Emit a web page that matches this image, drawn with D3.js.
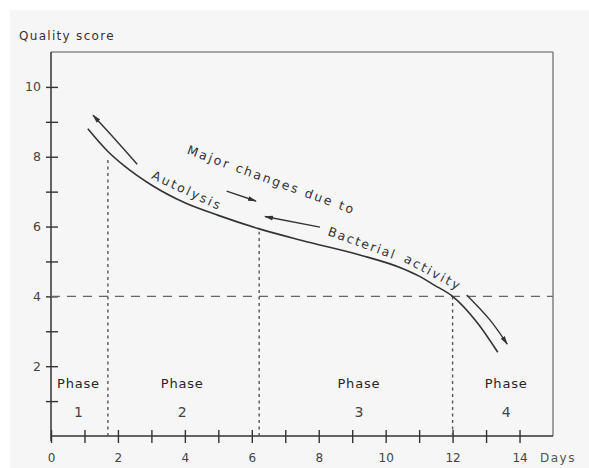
<!DOCTYPE html>
<html><head><meta charset="utf-8">
<script src="https://cdn.jsdelivr.net/npm/d3@7"></script>
<style>
html,body{margin:0;padding:0;background:#fff;}
svg{display:block;}
text{font-family:"DejaVu Sans", sans-serif;}
</style></head>
<body><svg id="chart" width="589" height="468"></svg>
<script>
// ---- data ----
const curveDays   = [1.1, 1.7, 2.2, 3.0, 4.0, 5.0, 6.2, 7.5, 9.25, 10.5, 11.0, 11.44, 12.0, 12.75, 13.35];
const curveScores = [8.8, 8.15, 7.73, 7.19, 6.68, 6.32, 5.94, 5.6, 5.18, 4.8, 4.58, 4.33, 4.0, 3.23, 2.4];

const yTickValues = [1,2,3,4,5,6,7,8,9,10];
const yTickLabels = ["","2","","4","","6","","8","","10"];
const xTickValues = [0,1,2,3,4,5,6,7,8,9,10,11,12,13,14];
const xTickLabels = ["0","","2","","4","","6","","8","","10","","12","","14"];

const thresholdScore = 4;
const phaseBoundaryDays = [1.7, 6.22, 12.0];
const phaseBoundaryTops = [8.0, 5.85, 4.0];
const phaseNames   = ["Phase","Phase","Phase","Phase"];
const phaseNumbers = ["1","2","3","4"];
const phaseLabelDays = [0.82, 3.92, 9.2, 13.6];

const annoTexts  = ["Major changes due to", "Autolysis", "Bacterial", "activity"];
const annoDays   = [4.04, 2.98, 8.25, 10.52];
const annoScores = [8.09, 7.38, 5.76, 5.0];
const annoAngles = [20, 25, 20, 28];
const annoLengths= [176, 74, 70, 61];

// arrows (data units: [day, score]); arrowhead at last point
const arrowUpLeft    = [[2.575,7.787],[1.886,8.53],[1.257,9.19]];
const arrowAutolysis = [[5.248,7.016],[6.124,6.73]];
const arrowBacterial = [[8.037,5.983],[6.394,6.287]];
const arrowDownRight = [[12.42,4.04],[13.12,3.32],[13.63,2.635]];

// ---- chart ----
const svg = d3.select("#chart");
svg.append("rect").attr("x",10).attr("y",10).attr("width",579).attr("height",458).attr("fill","#f6f6f6");

const x = d3.scaleLinear().domain([0,15]).range([51,553]);
const y = d3.scaleLinear().domain([0,11]).range([436,52]);
const ink = "#333";

svg.append("defs").append("marker")
  .attr("id","ah").attr("markerUnits","userSpaceOnUse")
  .attr("viewBox","0 -4 10 8").attr("refX",8).attr("refY",0)
  .attr("markerWidth",10).attr("markerHeight",8).attr("orient","auto")
  .append("path").attr("d","M0,-2.4L9,0L0,2.4Z").attr("fill",ink);

// frame (top, right)
svg.append("line").attr("x1",x(0)).attr("x2",x(15)).attr("y1",y(11)).attr("y2",y(11))
  .attr("stroke","#8a8a8a").attr("stroke-width",1.6);
svg.append("line").attr("x1",x(15)).attr("x2",x(15)).attr("y1",y(11)).attr("y2",y(0))
  .attr("stroke","#8a8a8a").attr("stroke-width",1.6);

// axes
const gy = svg.append("g").attr("transform",`translate(${x(0)},0)`)
  .call(d3.axisLeft(y).tickValues(yTickValues).tickFormat((d,i)=>yTickLabels[i]).tickSize(0).tickPadding(10));
gy.select(".domain").remove();
gy.selectAll(".tick line").attr("x1",-5).attr("x2",7).attr("stroke",ink).attr("stroke-width",1.4);
gy.selectAll(".tick text").attr("font-size",12.5).attr("fill","#444").attr("font-family","DejaVu Sans");

const gx = svg.append("g").attr("transform",`translate(0,${y(0)})`)
  .call(d3.axisBottom(x).tickValues(xTickValues).tickFormat((d,i)=>xTickLabels[i]).tickSize(0).tickPadding(17));
gx.select(".domain").remove();
gx.selectAll(".tick line").attr("y1",-6).attr("y2",7).attr("stroke",ink).attr("stroke-width",1.4);
gx.selectAll(".tick text").attr("font-size",12).attr("fill","#444").attr("font-family","DejaVu Sans");

svg.append("line").attr("x1",x(0)).attr("x2",x(0)).attr("y1",y(11)).attr("y2",y(0)+5)
  .attr("stroke",ink).attr("stroke-width",1.5);
svg.append("line").attr("x1",x(0)).attr("x2",x(15)).attr("y1",y(0)).attr("y2",y(0))
  .attr("stroke",ink).attr("stroke-width",1.5);

svg.append("text").attr("x",19).attr("y",40).attr("font-size",12).attr("letter-spacing",1.3)
  .attr("fill","#333").text("Quality score");
svg.append("text").attr("x",540).attr("y",462).attr("font-size",12).attr("letter-spacing",1.5)
  .attr("fill","#555").text("Days");

// threshold dashed line
svg.append("line").attr("x1",x(0)).attr("x2",x(15)).attr("y1",y(thresholdScore)).attr("y2",y(thresholdScore))
  .attr("stroke","#666").attr("stroke-width",1.3).attr("stroke-dasharray","9,7");

// phase boundaries
svg.selectAll(".pb").data(phaseBoundaryDays).join("line").attr("class","pb")
  .attr("x1",d=>x(d)).attr("x2",d=>x(d)).attr("y1",y(0)).attr("y2",(d,i)=>y(phaseBoundaryTops[i]))
  .attr("stroke","#555").attr("stroke-width",1.4).attr("stroke-dasharray","3,3.5");

// phase labels
svg.selectAll(".pn").data(phaseNames).join("text").attr("class","pn")
  .attr("x",(d,i)=>x(phaseLabelDays[i])).attr("y",388).attr("text-anchor","middle")
  .attr("font-size",13).attr("letter-spacing",0.8).attr("fill","#262626").text(d=>d);
svg.selectAll(".pnum").data(phaseNumbers).join("text").attr("class","pnum")
  .attr("x",(d,i)=>x(phaseLabelDays[i])).attr("y",417).attr("text-anchor","middle")
  .attr("font-size",14).attr("fill","#444").text(d=>d);

// main curve
const curveData = curveDays.map((d,i)=>[d,curveScores[i]]);
const line = d3.line().x(d=>x(d[0])).y(d=>y(d[1])).curve(d3.curveMonotoneX);
const line2 = d3.line().x(d=>x(d[0])).y(d=>y(d[1])).curve(d3.curveCatmullRom.alpha(0.5));
svg.append("path").attr("d",line(curveData)).attr("fill","none").attr("stroke",ink).attr("stroke-width",1.6);

// arrows
[arrowUpLeft, arrowAutolysis, arrowBacterial, arrowDownRight].forEach(a=>{
  svg.append("path").attr("d",line2(a)).attr("fill","none").attr("stroke",ink)
    .attr("stroke-width",1.4).attr("marker-end","url(#ah)");
});

// annotations
annoTexts.forEach((t,i)=>{
  svg.append("text")
    .attr("transform",`translate(${x(annoDays[i])},${y(annoScores[i])}) rotate(${annoAngles[i]})`)
    .attr("font-size",12.5).attr("fill","#333")
    .attr("textLength",annoLengths[i]).attr("lengthAdjust","spacing")
    .text(t);
});
</script>
</body></html>
